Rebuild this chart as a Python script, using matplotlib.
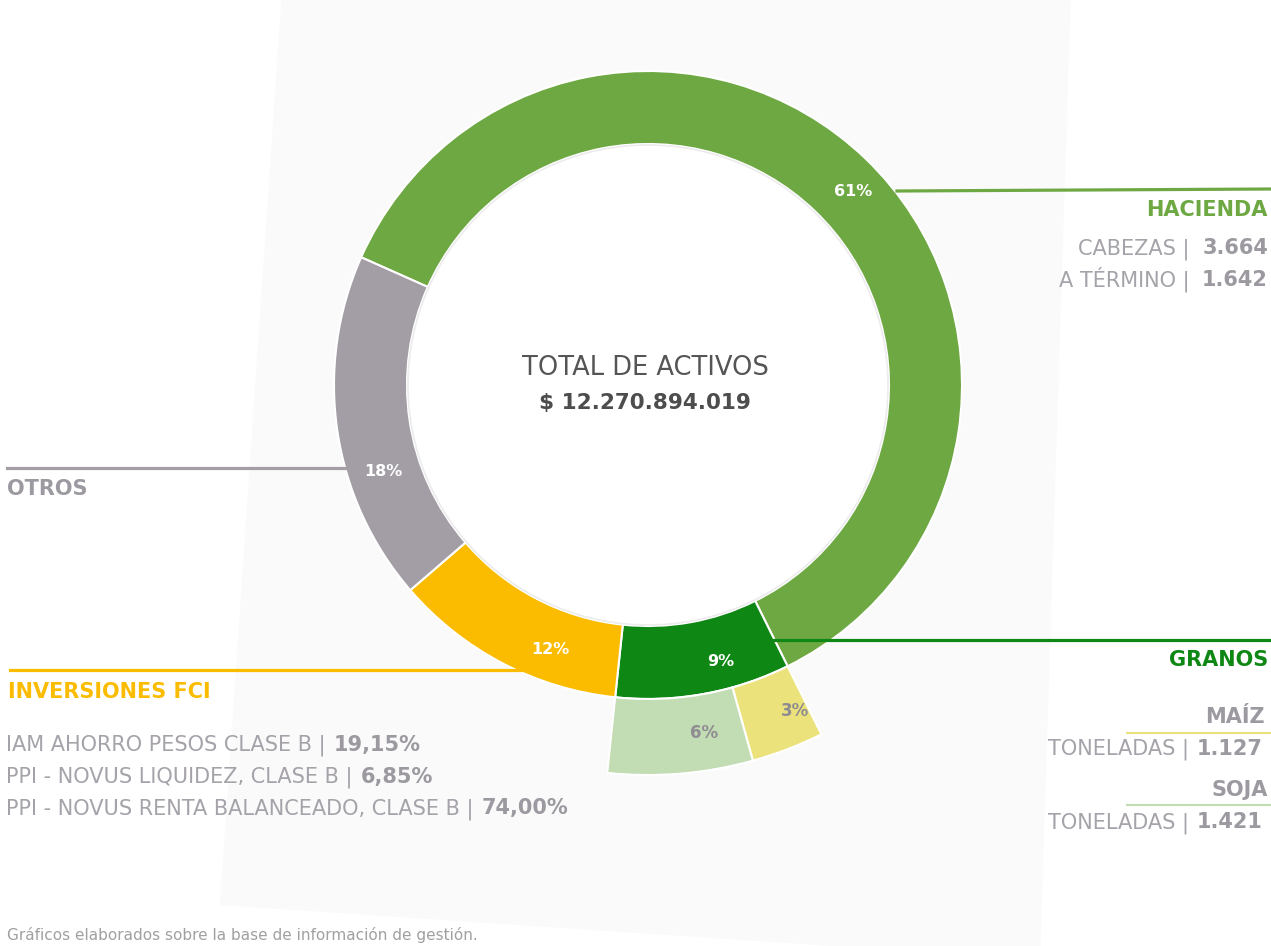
import matplotlib
matplotlib.use("Agg")
import matplotlib.pyplot as plt
from matplotlib.patches import Polygon, Circle

# datos
segmentos = ['HACIENDA', 'GRANOS', 'INVERSIONES FCI', 'OTROS']
porcentajes = [61, 9, 12, 18]
granos_sub = ['MAÍZ', 'SOJA']
granos_pct = [3, 6]

hacienda_items = ['CABEZAS |', 'A TÉRMINO |']
hacienda_vals = ['3.664', '1.642']
fci_nombres = ['IAM AHORRO PESOS CLASE B |', 'PPI - NOVUS LIQUIDEZ, CLASE B |',
               'PPI - NOVUS RENTA BALANCEADO, CLASE B |']
fci_pct = ['19,15%', '6,85%', '74,00%']
granos_ton = ['1.127', '1.421']
total = '$ 12.270.894.019'

# colores
c_seg = ['#6ea843', '#0f8715', '#fbbc00', '#a39ea5']
c_sub = ['#ece27c', '#c2dcb4']
gris = '#a5a2a9'
gris_b = '#9c99a0'

W, H = 1271, 946
plt.rcParams['font.family'] = ['DejaVu Sans']

fig = plt.figure(figsize=(W / 100, H / 100), dpi=100)
ax = fig.add_axes([0, 0, 1, 1])


def px(x, y):
    return x, H - y


# fondo gris claro inclinado
ax.add_patch(Polygon([px(282, -10), px(1071, -10), px(1040, 960), px(220, 905)],
                     closed=True, facecolor='#fafafa', edgecolor='none', zorder=0))

cx, cy = px(648, 385)
start = 156

# anillo principal
ax.pie(porcentajes, colors=c_seg, startangle=start, counterclock=False,
       radius=314, center=(cx, cy),
       wedgeprops=dict(width=73, edgecolor='white', linewidth=1.5))
ax.add_patch(Circle((cx, cy), 240, facecolor='white', edgecolor='#ececec',
                    linewidth=1.2, zorder=3))

# anillo exterior de granos
ini_granos = start - 360 * porcentajes[0] / 100
resto = 100 - sum(granos_pct)
w2, _ = ax.pie(granos_pct + [resto], colors=c_sub + ['none'], startangle=ini_granos,
               counterclock=False, radius=390, center=(cx, cy),
               wedgeprops=dict(width=76, edgecolor='white', linewidth=1.5))
w2[-1].set_edgecolor('none')

ax.set_xlim(0, W)
ax.set_ylim(0, H)
ax.set_aspect('equal')
ax.axis('off')

renderer = fig.canvas.get_renderer()

# etiquetas de porcentaje
pos_seg = [(853, 191), (721, 661), (550, 650), (383, 472)]
for v, (x, y) in zip(porcentajes, pos_seg):
    ax.text(*px(x, y), f'{v}%', color='white', fontsize=11.5, fontweight='bold',
            ha='center', va='center', zorder=5)
pos_sub = [(795, 711), (704, 733)]
for v, (x, y) in zip(granos_pct, pos_sub):
    ax.text(*px(x, y), f'{v}%', color='#8f8b92', fontsize=12, fontweight='bold',
            ha='center', va='center', zorder=5)

# centro
ax.text(*px(645, 368), 'TOTAL DE ACTIVOS', fontsize=18.5, color='#555555',
        ha='center', va='center', zorder=6)
ax.text(*px(645, 403), total, fontsize=15.5, color='#4d4d4d', fontweight='bold',
        ha='center', va='center', zorder=6)

# lineas guia
ax.plot([897, 1271], [H - 191, H - 189], color=c_seg[0], lw=2.3, zorder=4)
ax.plot([7, 345], [H - 468, H - 468], color=c_seg[3], lw=2.3, zorder=4)
ax.plot([10, 550], [H - 670, H - 670], color=c_seg[2], lw=2.3, zorder=4)
ax.plot([722, 1271], [H - 640, H - 640], color=c_seg[1], lw=2.3, zorder=4)
ax.plot([1127, 1271], [H - 733, H - 733], color=c_sub[0], lw=1.5, zorder=4)
ax.plot([1127, 1271], [H - 805, H - 805], color=c_sub[1], lw=1.5, zorder=4)

fs = 15

# HACIENDA
ax.text(*px(1268, 210), segmentos[0], color=c_seg[0], fontsize=fs, fontweight='bold',
        ha='right', va='center')
for i, (lab, val) in enumerate(zip(hacienda_items, hacienda_vals)):
    y = 254 + i * 32
    ax.text(*px(1268, y), val, color=gris_b, fontsize=fs, fontweight='bold',
            ha='right', va='baseline')
    ax.text(*px(1190, y), lab, color=gris, fontsize=fs, ha='right', va='baseline')

# OTROS
ax.text(*px(7, 489), segmentos[3], color=gris_b, fontsize=fs, fontweight='bold',
        ha='left', va='center')

# INVERSIONES FCI
ax.text(*px(8, 692), segmentos[2], color=c_seg[2], fontsize=fs, fontweight='bold',
        ha='left', va='center')
for i, (nom, p) in enumerate(zip(fci_nombres, fci_pct)):
    y = 751 + i * 31.5
    t = ax.text(*px(6, y), nom, color=gris, fontsize=fs, ha='left', va='baseline')
    x1 = t.get_window_extent(renderer).x1
    ax.text(x1 + 8, H - y, p, color=gris_b, fontsize=fs, fontweight='bold',
            ha='left', va='baseline')

# GRANOS
ax.text(*px(1268, 660), segmentos[1], color=c_seg[1], fontsize=fs, fontweight='bold',
        ha='right', va='center')
for i, (nom, ton) in enumerate(zip(granos_sub, granos_ton)):
    y0 = 717 + i * 73
    ax.text(*px(1265 + i * 3, y0), nom, color=gris_b, fontsize=fs, fontweight='bold',
            ha='right', va='center')
    t = ax.text(*px(1263, y0 + 38), ton, color=gris_b, fontsize=fs,
                fontweight='bold', ha='right', va='baseline')
    x0 = t.get_window_extent(renderer).x0
    ax.text(x0 - 8, H - (y0 + 38), 'TONELADAS |', color=gris, fontsize=fs,
            ha='right', va='baseline')

# nota
ax.text(*px(7, 935), 'Gráficos elaborados sobre la base de información de gestión.',
        color='#a0a0a0', fontsize=11, ha='left', va='center')

fig.savefig('out.png', dpi=100)
